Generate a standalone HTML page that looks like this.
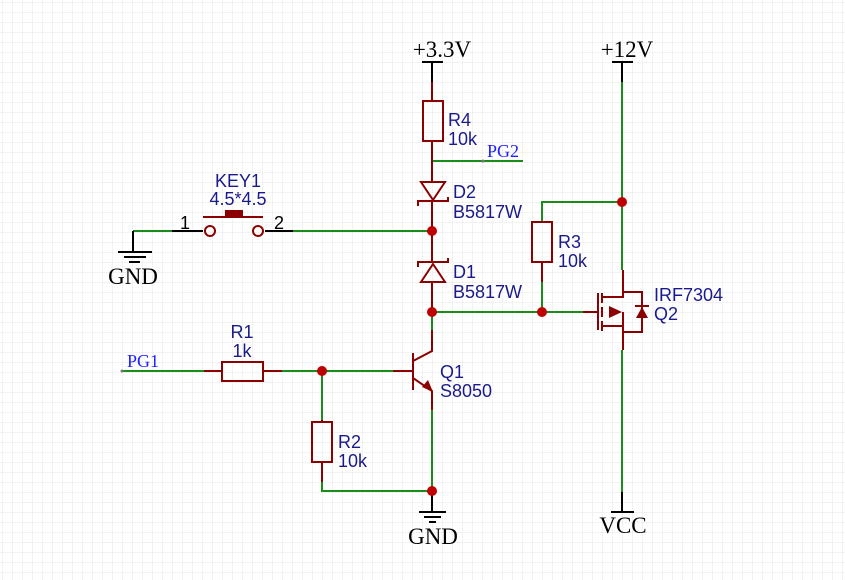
<!DOCTYPE html>
<html><head><meta charset="utf-8"><style>
html,body{margin:0;padding:0;background:#fff}
svg{display:block}
.l{font-family:"Liberation Sans",sans-serif;font-size:18px;fill:#1a1a8c}
.p{font-family:"Liberation Serif",serif;font-size:23px;fill:#000}
.n{font-family:"Liberation Serif",serif;font-size:18px;fill:#2020ff}
</style></head><body>
<svg width="845" height="580" viewBox="0 0 845 580" xmlns="http://www.w3.org/2000/svg">
<defs><pattern id="g" x="3" y="3" width="10" height="10" patternUnits="userSpaceOnUse"><path d="M10 0V10M0 10H10" stroke="#e6e6e6" stroke-width="1" fill="none"/></pattern></defs>
<rect width="845" height="580" fill="url(#g)"/>
<g fill="none" stroke-width="2">
<g stroke="#1a8c1a">
<path d="M432 161H523"/>
<path d="M293 231H432"/>
<path d="M133 231H172"/>
<path d="M432 312H583"/>
<path d="M622 82V270"/>
<path d="M622 202H542V222"/>
<path d="M542 282V312"/>
<path d="M432 312V330"/>
<path d="M432 410V491H322V482"/>
<path d="M122 371H204"/>
<path d="M282 371H393"/>
<path d="M322 371V420"/>
<path d="M622 350V492"/>
</g>
<g stroke="#000">
<path d="M422 62H443M432 62V82"/>
<path d="M612 62H633M622 62V82"/>
<path d="M172 231H203M265 231H293"/>
<path d="M133 231V252M118 252H152M124 257H146M129 262H140"/>
<path d="M432 491V512M419 512H446M424 517H441M429 522H436"/>
<path d="M622 492V512M611 512H634"/>
</g>
<g stroke="#8b0000">
<path d="M432 82V101M432 141V182"/>
<rect x="423" y="101" width="20" height="40"/>
<path d="M421 182H445L433 200Z"/>
<path d="M418 206V201H448V197"/>
<path d="M432 200V263M432 282V312"/>
<path d="M421 282H445L433 264Z"/>
<path d="M418 267V262H448V258"/>
<rect x="532" y="222" width="20" height="40"/>
<path d="M542 262V282"/>
<rect x="222" y="362" width="41" height="19"/>
<path d="M204 371H222M263 371H282"/>
<rect x="312" y="422" width="20" height="40"/>
<path d="M322 420V422M322 462V482"/>
<path d="M393 371H413M413 353V390"/>
<path d="M413 361L432 351V330"/>
<path d="M413 378L432 391V410"/>
<circle cx="210" cy="231" r="5"/>
<circle cx="258" cy="231" r="5"/>
<path d="M203 217H263"/>
<path d="M583 312H598M598 293V330"/>
<path d="M602 293V303M602 307V317M602 321V331"/>
<path d="M602 297H623V270M602 326H623V350M623 312V326"/>
<path d="M623 292H642V332H623"/>
</g>
</g>
<g fill="#8b0000">
<rect x="225" y="210" width="18" height="7"/>
<path d="M433 392L422 387L428 380Z"/>
<path d="M622 312L609 306V318Z"/>
<path d="M636 318H648L642 307Z"/>
<rect x="635" y="305" width="14" height="2"/>
</g>
<g fill="#c00000">
<circle cx="432" cy="231" r="5"/><circle cx="432" cy="312" r="5"/>
<circle cx="542" cy="312" r="5"/><circle cx="622" cy="202" r="5"/>
<circle cx="322" cy="371" r="5"/><circle cx="432" cy="491" r="5"/>
</g>
<g fill="#777"><circle cx="122" cy="371" r="1.5"/><circle cx="483" cy="161" r="1.5"/></g>
<text class="p" x="442" y="57" text-anchor="middle">+3.3V</text>
<text class="p" x="627" y="57" text-anchor="middle">+12V</text>
<text class="p" x="133" y="284" text-anchor="middle">GND</text>
<text class="p" x="433" y="544" text-anchor="middle">GND</text>
<text class="p" x="623" y="533" text-anchor="middle">VCC</text>
<text class="n" x="487" y="157">PG2</text>
<text class="n" x="127" y="367">PG1</text>
<text class="l" x="448" y="126">R4</text><text class="l" x="448" y="145">10k</text>
<text class="l" x="453" y="198">D2</text><text class="l" x="453" y="218">B5817W</text>
<text class="l" x="453" y="278">D1</text><text class="l" x="453" y="298">B5817W</text>
<text class="l" x="558" y="248">R3</text><text class="l" x="558" y="267">10k</text>
<text class="l" x="654" y="301">IRF7304</text><text class="l" x="654" y="320">Q2</text>
<text class="l" x="440" y="378">Q1</text><text class="l" x="440" y="397">S8050</text>
<text class="l" x="242" y="338" text-anchor="middle">R1</text><text class="l" x="242" y="357" text-anchor="middle">1k</text>
<text class="l" x="338" y="448">R2</text><text class="l" x="338" y="467">10k</text>
<text class="l" x="238" y="187" text-anchor="middle">KEY1</text><text class="l" x="238" y="205" text-anchor="middle">4.5*4.5</text>
<text class="l" x="180" y="229" style="fill:#000">1</text><text class="l" x="274" y="229" style="fill:#000">2</text>
</svg>
</body></html>
